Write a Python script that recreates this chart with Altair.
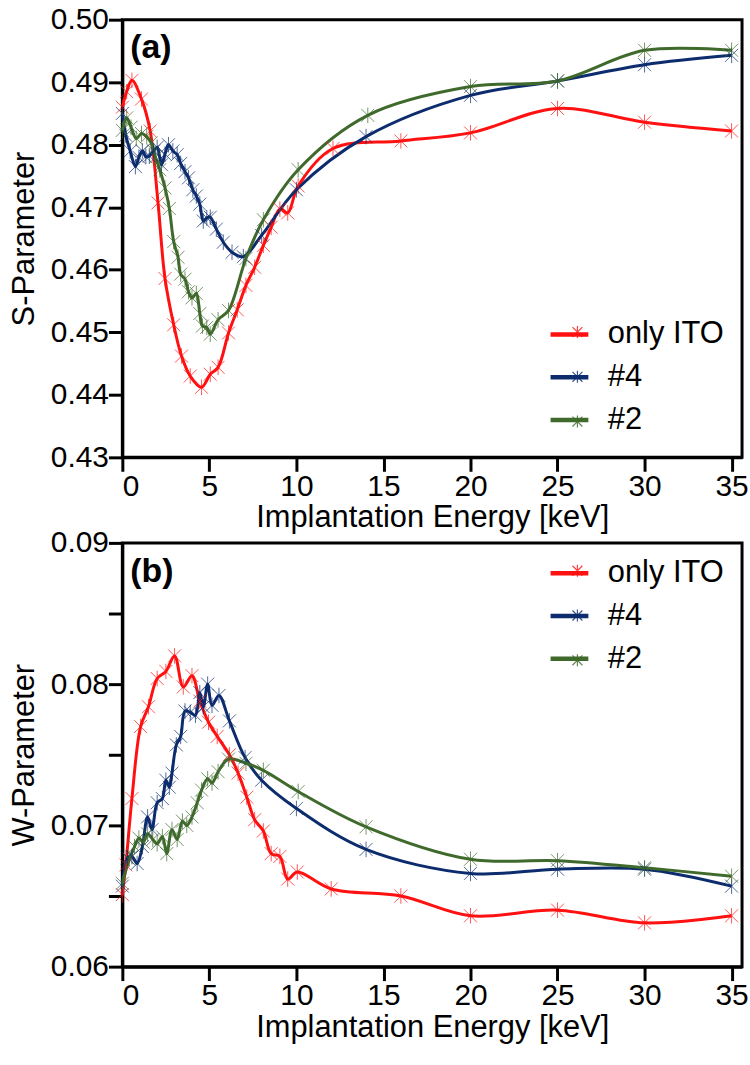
import altair as alt
import pandas as pd

series = ["only ITO", "#4", "#2"]
colors = ["#ff1111", "#0c2c6e", "#3f6a2c"]

# ---------- panel (a): S-parameter ----------
Ea_ito = [0, 0.25, 0.55, 1.1, 1.6, 2.05, 2.45, 2.95, 3.4, 3.9, 4.55, 5.05, 5.5, 6.1, 6.6,
          7.1, 7.6, 8.1, 8.55, 9.05, 9.5, 10.1, 12.1, 16.0, 20.0, 25.0, 30.0, 35.0]
S_ito = [0.4860, 0.4885, 0.4903, 0.4873, 0.4822, 0.4707, 0.4586, 0.4512, 0.4462, 0.4430,
         0.4412, 0.4433, 0.4444, 0.4499, 0.4536, 0.4575, 0.4604, 0.4639, 0.4668, 0.4697,
         0.4691, 0.4734, 0.4794, 0.4806, 0.4819, 0.4858, 0.4836, 0.4822]

Ea_4 = [0.0, 0.2, 0.45, 0.75, 0.95, 1.15, 1.35, 1.55, 1.8, 2.0, 2.25, 2.45, 2.65, 2.9, 3.15,
        3.35, 3.6, 3.8, 4.05, 4.25, 4.45, 4.65, 4.85, 5.05, 5.4, 5.8, 6.3, 6.95, 8.0, 10.0,
        14.0, 20.0, 25.0, 30.0, 35.0]
S_4 = [0.4850, 0.4815, 0.4790, 0.4765, 0.4780, 0.4790, 0.4781, 0.4782, 0.4790, 0.4796,
       0.4768, 0.4785, 0.4800, 0.4790, 0.4784, 0.4770, 0.4757, 0.4747, 0.4728, 0.4718,
       0.4705, 0.4678, 0.4683, 0.4684, 0.4665, 0.4644, 0.4628, 0.4621, 0.4655, 0.4728,
       0.4813, 0.4879, 0.4902, 0.4928, 0.4943]

Ea_2 = [0.0, 0.25, 0.5, 0.8, 1.1, 1.4, 1.65, 1.9, 2.15, 2.45, 2.7, 2.95, 3.2, 3.35, 3.6,
        3.8, 4.0, 4.25, 4.45, 4.6, 4.85, 5.05, 5.5, 6.1, 7.1, 8.1, 10.1, 14.1, 20.0, 25.0,
        30.0, 35.0]
S_2 = [0.4823, 0.4843, 0.4828, 0.4810, 0.4818, 0.4813, 0.4803, 0.4780, 0.4760, 0.4731,
       0.4698, 0.4645, 0.4620, 0.4593, 0.4585, 0.4565, 0.4555, 0.4562, 0.4530, 0.4510,
       0.4508, 0.4497, 0.4520, 0.4535, 0.4618, 0.4680, 0.4760, 0.4847, 0.4893, 0.4902,
       0.4951, 0.4951]

# ---------- panel (b): W-parameter ----------
Eb_ito = [0, 0.2, 0.55, 1.05, 1.5, 2.0, 2.5, 3.0, 3.5, 4.0, 4.45, 4.95, 5.45, 6.15, 6.65,
          7.15, 7.6, 8.1, 8.55, 9.05, 9.5, 10.05, 12.0, 16.0, 20.0, 25.0, 30.0, 35.0]
W_ito = [0.0651, 0.0672, 0.0719, 0.0770, 0.0784, 0.0804, 0.0809, 0.0820, 0.0798, 0.0806,
         0.0788, 0.0773, 0.0763, 0.0750, 0.0737, 0.0720, 0.0704, 0.0696, 0.0680, 0.0678,
         0.0662, 0.0667, 0.0655, 0.0650, 0.0636, 0.0640, 0.0631, 0.0636]

Eb_4 = [0, 0.3, 0.55, 0.85, 1.15, 1.45, 1.7, 2.0, 2.3, 2.5, 2.7, 2.85, 3.1, 3.35, 3.6, 3.9,
        4.2, 4.45, 4.65, 4.9, 5.15, 5.55, 6.15, 7.05, 8.0, 10.0, 14.0, 20.0, 25.0, 30.0, 35.0]
W_4 = [0.0657, 0.0677, 0.0678, 0.0673, 0.0685, 0.0706, 0.0697, 0.0716, 0.0719, 0.0732,
       0.0727, 0.0737, 0.0757, 0.0763, 0.0781, 0.0780, 0.0778, 0.0794, 0.0784, 0.0800,
       0.0785, 0.0792, 0.0774, 0.0748, 0.0732, 0.0712, 0.0683, 0.0666, 0.0669, 0.0669,
       0.0657]

Eb_2 = [0, 0.4, 0.7, 0.95, 1.2, 1.45, 1.75, 2.0, 2.3, 2.55, 2.85, 3.15, 3.45, 3.7, 4.0,
        4.3, 4.55, 4.9, 5.15, 5.5, 6.1, 7.1, 8.1, 10.1, 14.0, 20.0, 25.0, 30.0, 35.0]
W_2 = [0.0659, 0.0676, 0.0685, 0.0691, 0.0688, 0.0694, 0.0690, 0.0687, 0.0692, 0.0680,
       0.0697, 0.0690, 0.0703, 0.0700, 0.0706, 0.0716, 0.0725, 0.0733, 0.0730, 0.0738,
       0.0747, 0.0744, 0.0739, 0.0724, 0.0699, 0.0676, 0.0675, 0.0670, 0.0664]

x_ticks = [0, 5, 10, 15, 20, 25, 30, 35]
s_ticks = [0.43, 0.44, 0.45, 0.46, 0.47, 0.48, 0.49, 0.50]
w_ticks = [0.06, 0.065, 0.07, 0.075, 0.08, 0.085, 0.09]


def make_df(pairs):
    rows = []
    for name, E, V in pairs:
        for e, v in zip(E, V):
            rows.append({"series": name, "marker": name, "E": e, "V": v})
    return pd.DataFrame(rows)


df_a = make_df([("only ITO", Ea_ito, S_ito), ("#4", Ea_4, S_4), ("#2", Ea_2, S_2)])
df_b = make_df([("only ITO", Eb_ito, W_ito), ("#4", Eb_4, W_4), ("#2", Eb_2, W_2)])

ASTERISK = "M-1,-1L1,1M-1,1L1,-1M0,-1.2L0,1.2"
LEG_LINE = "M-1,0L1,0"
FONT = "Liberation Sans"
LEG_X = 428
ROW = 44
SYM = 38     # legend line length
AST = 10     # legend asterisk size
LAB = 31     # legend label font size


def panel(df, ytitle, yticks, ydomain, label, height, leg_y, label_expr):
    x = alt.X("E:Q", scale=alt.Scale(domain=[0, 35.6], nice=False),
              axis=alt.Axis(values=x_ticks, title="Implantation Energy [keV]"))
    y = alt.Y("V:Q", scale=alt.Scale(domain=ydomain, nice=False, zero=False),
              axis=alt.Axis(values=yticks, title=ytitle, labelExpr=label_expr))
    lines = alt.Chart(df).mark_line(interpolate="catmull-rom", strokeWidth=3).encode(
        x=x, y=y,
        color=alt.Color("series:N", scale=alt.Scale(domain=series, range=colors), sort=series,
                        legend=alt.Legend(title=None, orient="none", legendX=LEG_X, legendY=leg_y,
                                          symbolType=LEG_LINE, symbolSize=SYM * SYM,
                                          symbolStrokeWidth=4.5, labelFontSize=LAB,
                                          labelFont=FONT, labelOffset=17, rowPadding=ROW - SYM,
                                          labelColor="black", padding=0)),
    )
    # marker scale uses a data-driven (sorted) domain so its legend stays separate
    points = alt.Chart(df).mark_point(shape=ASTERISK, size=170, filled=False,
                                      strokeWidth=1, opacity=0.7).encode(
        x=x, y=y,
        stroke=alt.Stroke("marker:N", scale=alt.Scale(range=colors), sort=series,
                          legend=alt.Legend(title=None, orient="none",
                                            legendX=LEG_X + SYM / 2 - AST / 2,
                                            legendY=leg_y + (SYM - LAB) / 2,
                                            symbolType=ASTERISK, symbolSize=AST * AST,
                                            symbolStrokeWidth=1.2, symbolOpacity=0.8,
                                            labelFontSize=LAB, labelFont=FONT, labelExpr="''",
                                            labelOffset=0, rowPadding=ROW - LAB, padding=0)),
    )
    txt = alt.Chart(pd.DataFrame({"t": [label]})).mark_text(
        fontWeight="bold", fontSize=34, font=FONT, align="left", baseline="top", color="black"
    ).encode(x=alt.value(8), y=alt.value(12), text="t:N")
    return alt.layer(lines, points, txt).properties(width=623, height=height)


top = panel(df_a, "S-Parameter", s_ticks, [0.43, 0.50], "(a)", 440, 295,
            "format(datum.value, '.2f')")
bottom = panel(df_b, "W-Parameter", w_ticks, [0.06, 0.09], "(b)", 426, 9,
               "round(datum.value*1000) % 10 == 0 ? format(datum.value, '.2f') : ''")

chart = alt.vconcat(top, bottom, spacing=-9).resolve_scale(
    color="independent", stroke="independent"
).resolve_legend(
    color="independent", stroke="independent"
).properties(
    padding={"left": 7, "top": 0, "right": 0, "bottom": 0},
    background="white",
).configure_axis(
    domainColor="black", domainWidth=3, tickColor="black", tickWidth=3, tickSize=14,
    labelFont=FONT, labelFontSize=30, labelColor="black", labelPadding=0,
    titleFont=FONT, titleFontSize=31, titleFontWeight="normal", titleColor="black",
    grid=False,
).configure_axisY(titlePadding=10).configure_axisX(titlePadding=2).configure_view(
    stroke="black", strokeWidth=3
)

chart.save("out.html", embed_options={"renderer": "svg", "actions": False})
